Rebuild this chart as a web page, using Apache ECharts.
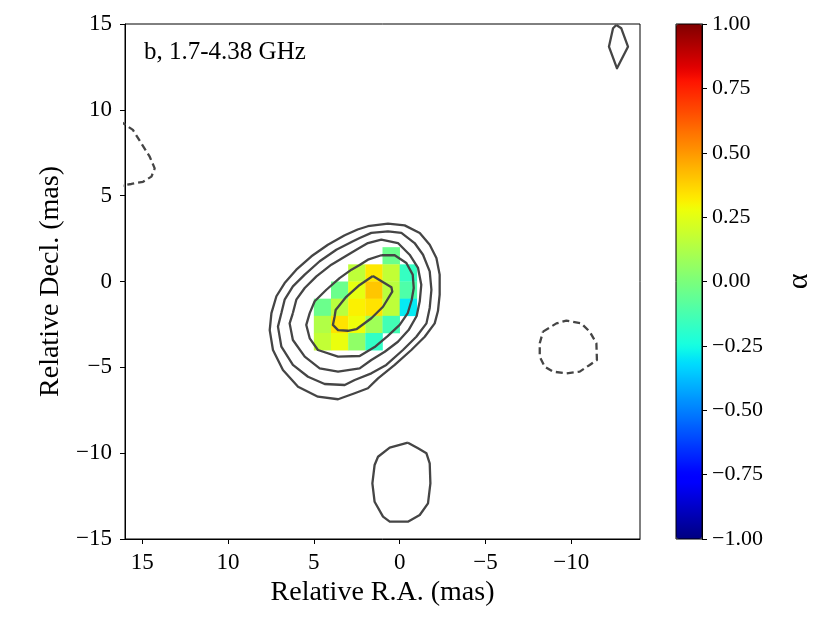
<!DOCTYPE html>
<html>
<head>
<meta charset="utf-8">
<script src="https://cdn.jsdelivr.net/npm/echarts@6/dist/echarts.min.js"></script>
<style>html,body{margin:0;padding:0;background:#fff}#c{width:830px;height:623px}</style>
</head>
<body>
<div id="c"></div>
<script>
// ---- data (RA, Dec in mas; alpha = spectral index) ----
const xTicks = [15, 10, 5, 0, -5, -10];
const yTicks = [-15, -10, -5, 0, 5, 10, 15];
const cbTicks = [-1, -0.75, -0.5, -0.25, 0, 0.25, 0.5, 0.75, 1];
const panelLabel = 'b, 1.7-4.38 GHz';

// spectral index pixels: [RA centre, Dec centre, alpha]
const alphaCells = [
  [0.5, 1.5, -0.04],
  [2.5, 0.5, 0.16], [1.5, 0.5, 0.33], [0.5, 0.5, 0.17], [-0.5, 0.5, -0.17],
  [3.5, -0.5, -0.04], [2.5, -0.5, 0.26], [1.5, -0.5, 0.40], [0.5, -0.5, 0.15], [-0.5, -0.5, -0.11],
  [4.5, -1.5, -0.04], [3.5, -1.5, 0.15], [2.5, -1.5, 0.31], [1.5, -1.5, 0.34], [0.5, -1.5, 0.16], [-0.5, -1.5, -0.29],
  [4.5, -2.5, 0.13], [3.5, -2.5, 0.34], [2.5, -2.5, 0.28], [1.5, -2.5, 0.09], [0.5, -2.5, -0.14],
  [4.5, -3.5, 0.17], [3.5, -3.5, 0.27], [2.5, -3.5, 0.05], [1.5, -3.5, -0.18]
];

// contour levels (RA, Dec)
const contour1 = [[3.20,2.69],[2.45,3.03],[1.85,3.22],[0.68,3.37],[-0.29,3.27],[-1.17,2.83],[-1.75,2.14],[-2.14,1.37],[-2.33,0.40],[-2.33,-0.77],[-2.23,-1.72],[-2.04,-2.44],[-1.46,-3.22],[-0.68,-3.99],[0.29,-4.86],[1.26,-5.64],[1.85,-6.22],[2.62,-6.51],[3.59,-6.86],[4.76,-6.71],[5.92,-6.13],[6.80,-5.16],[7.38,-3.99],[7.57,-2.83],[7.47,-1.84],[7.18,-0.86],[6.70,-0.09],[6.02,0.69],[5.14,1.47],[4.18,2.14],[3.20,2.69]];
const contour2 = [[6.89,-1.84],[6.70,-1.06],[6.22,-0.28],[5.53,0.40],[4.66,1.18],[3.69,1.85],[2.72,2.34],[2.33,2.53],[1.65,2.83],[0.68,2.92],[-0.10,2.83],[-0.87,2.24],[-1.36,1.56],[-1.75,0.59],[-1.85,-0.48],[-1.75,-1.54],[-1.56,-2.44],[-0.97,-3.22],[-0.19,-3.99],[0.78,-4.86],[1.65,-5.35],[2.62,-5.74],[3.20,-6.03],[4.37,-5.97],[5.34,-5.55],[6.22,-4.86],[6.89,-3.80],[7.09,-2.63],[6.89,-1.84]];
const contour3 = [[6.22,-1.84],[6.02,-1.06],[5.53,-0.38],[4.85,0.30],[3.98,0.98],[3.01,1.56],[2.45,1.89],[1.85,2.24],[1.07,2.44],[0.10,2.24],[-0.58,1.56],[-1.07,0.79],[-1.26,-0.19],[-1.17,-1.15],[-0.99,-2.01],[-0.52,-2.83],[0.10,-3.51],[0.87,-4.09],[1.65,-4.57],[2.33,-5.06],[3.59,-5.25],[4.66,-5.06],[5.53,-4.38],[6.22,-3.41],[6.41,-2.44],[6.22,-1.84]];
const contour4 = [[1.07,1.53],[0.29,1.53],[-0.39,1.08],[-0.76,0.40],[-0.82,-0.38],[-0.70,-1.08],[-0.47,-1.84],[0.00,-2.53],[0.70,-3.18],[1.46,-3.82],[2.33,-4.34],[3.59,-4.38],[4.76,-3.99],[5.24,-3.31],[5.44,-2.53],[5.24,-1.84],[4.95,-1.15],[4.27,-0.48],[3.50,0.20],[2.81,0.69],[2.33,0.96],[1.85,1.27],[1.07,1.53]];
const contour5 = [[1.56,0.32],[0.48,-0.34],[0.43,-0.59],[0.97,-1.47],[1.65,-2.14],[2.52,-2.78],[3.01,-2.87],[3.59,-2.83],[3.89,-2.53],[3.79,-2.05],[3.73,-1.66],[3.11,-0.89],[2.33,-0.20],[1.56,0.32]];
const contourNE = [[-12.62,14.94],[-12.91,14.75],[-13.30,13.68],[-12.66,12.42],[-12.19,13.68],[-12.43,14.75],[-12.62,14.94]];
const contourS = [[-0.48,-9.39],[-1.07,-9.72],[-1.56,-10.01],[-1.75,-10.59],[-1.79,-11.76],[-1.65,-12.92],[-1.17,-13.60],[-0.48,-13.99],[0.58,-13.99],[0.97,-13.70],[1.46,-12.83],[1.59,-11.76],[1.46,-10.69],[1.26,-10.21],[0.58,-9.68],[-0.48,-9.39]];
const negContourW = [[16.31,9.35],[15.54,8.83],[15.05,8.05],[14.56,7.27],[14.27,6.59],[14.46,6.11],[14.95,5.81],[15.63,5.68],[16.31,5.56]];
const negContourE = [[-8.35,-2.92],[-9.13,-2.44],[-9.71,-2.28],[-10.58,-2.44],[-11.07,-2.92],[-11.46,-3.60],[-11.49,-4.57],[-11.07,-4.86],[-10.49,-5.25],[-9.71,-5.35],[-8.93,-5.25],[-8.45,-4.96],[-8.16,-4.38],[-8.16,-3.60],[-8.35,-2.92]];

const posContours = [contour1, contour2, contour3, contour4, contour5, contourNE, contourS];
const negContours = [negContourW, negContourE];

// ---- jet colormap (matplotlib segment data) ----
function seg(pts, t) {
  for (let i = 1; i < pts.length; i++) {
    if (t <= pts[i][0]) {
      const a = pts[i - 1], b = pts[i];
      return a[1] + (b[1] - a[1]) * (t - a[0]) / (b[0] - a[0]);
    }
  }
  return pts[pts.length - 1][1];
}
const R = [[0,0],[0.35,0],[0.66,1],[0.89,1],[1,0.5]];
const G = [[0,0],[0.125,0],[0.375,1],[0.64,1],[0.91,0],[1,0]];
const B = [[0,0.5],[0.11,1],[0.34,1],[0.65,0],[1,0]];
const jet = [];
for (let i = 0; i <= 64; i++) {
  const t = i / 64;
  const h = v => Math.round(Math.max(0, Math.min(1, v)) * 255).toString(16).padStart(2, '0');
  jet.push('#' + h(seg(R, t)) + h(seg(G, t)) + h(seg(B, t)));
}

const FONT = '"Liberation Serif", "DejaVu Serif", serif';
const minus = v => String(v).replace('-', '\u2212');

const series = [{
  type: 'custom',
  xAxisIndex: 0, yAxisIndex: 0,
  data: alphaCells,
  encode: { x: 0, y: 1 },
  z: 1,
  renderItem: function (params, api) {
    const x = api.value(0), y = api.value(1);
    const p1 = api.coord([x + 0.5, y + 0.5]);
    const p2 = api.coord([x - 0.5, y - 0.5]);
    return {
      type: 'rect',
      shape: {
        x: Math.min(p1[0], p2[0]), y: Math.min(p1[1], p2[1]),
        width: Math.abs(p2[0] - p1[0]) + 0.3, height: Math.abs(p2[1] - p1[1]) + 0.3
      },
      style: { fill: api.visual('color') }
    };
  }
}];
posContours.forEach(c => series.push({
  type: 'line', data: c, showSymbol: false, symbol: 'none', z: 5, silent: true,
  clip: true, lineStyle: { color: '#454545', width: 2.3, join: 'round' }
}));
negContours.forEach(c => series.push({
  type: 'line', data: c, showSymbol: false, symbol: 'none', z: 5, silent: true,
  clip: true, lineStyle: { color: '#454545', width: 2.3, type: [7, 4] }
}));

const chart = echarts.init(document.getElementById('c'), null, { renderer: 'canvas' });
chart.setOption({
  animation: false,
  backgroundColor: '#fff',
  textStyle: { fontFamily: FONT },
  title: {
    text: panelLabel, left: 139, top: 35,
    textStyle: { fontFamily: FONT, fontSize: 25, fontWeight: 'normal', color: '#000' }
  },
  grid: [
    { left: 125, top: 24, width: 515, height: 515, show: true, borderColor: '#000', borderWidth: 1, backgroundColor: 'transparent' },
    { left: 676, top: 24, width: 26, height: 515, show: true, borderColor: '#000', borderWidth: 1, backgroundColor: 'transparent', z: 10 }
  ],
  xAxis: [{
    type: 'value', gridIndex: 0, min: -14, max: 16, inverse: true,
    name: 'Relative R.A. (mas)', nameLocation: 'middle', nameGap: 40,
    nameTextStyle: { fontFamily: FONT, fontSize: 28, color: '#000' },
    axisLine: { show: true, onZero: false, lineStyle: { color: '#000', width: 1 } },
    axisTick: { show: true, length: 5, inside: false, customValues: xTicks, lineStyle: { color: '#000' } },
    axisLabel: { customValues: xTicks, formatter: minus, fontFamily: FONT, fontSize: 23, color: '#000', margin: 12 },
    splitLine: { show: false }
  }, {
    type: 'value', gridIndex: 1, min: 0, max: 1, show: false
  }],
  yAxis: [{
    type: 'value', gridIndex: 0, min: -15, max: 15, interval: 5,
    name: 'Relative Decl. (mas)', nameLocation: 'middle', nameGap: 60,
    nameTextStyle: { fontFamily: FONT, fontSize: 28, color: '#000' },
    axisLine: { show: true, onZero: false, lineStyle: { color: '#000', width: 1 } },
    axisTick: { show: true, length: 5, lineStyle: { color: '#000' } },
    axisLabel: { formatter: minus, fontFamily: FONT, fontSize: 23, color: '#000', margin: 13 },
    splitLine: { show: false }
  }, {
    type: 'value', gridIndex: 1, min: -1, max: 1, interval: 0.25, position: 'right',
    name: '\u03b1', nameLocation: 'middle', nameGap: 82, nameRotate: 90,
    nameTextStyle: { fontFamily: FONT, fontSize: 30, color: '#000' },
    axisLine: { show: true, onZero: false, lineStyle: { color: '#000', width: 1 } },
    axisTick: { show: true, length: 5, lineStyle: { color: '#000' } },
    axisLabel: { formatter: v => minus(v.toFixed(2)), fontFamily: FONT, fontSize: 22, color: '#000', margin: 10 },
    splitLine: { show: false }
  }],
  visualMap: {
    type: 'continuous', min: -1, max: 1, dimension: 2, seriesIndex: 0,
    calculable: false, left: 676, top: 24, itemWidth: 26, itemHeight: 515,
    padding: 0, text: null, inRange: { color: jet }, hoverLink: false
  },
  series: series
});
</script>
</body>
</html>
